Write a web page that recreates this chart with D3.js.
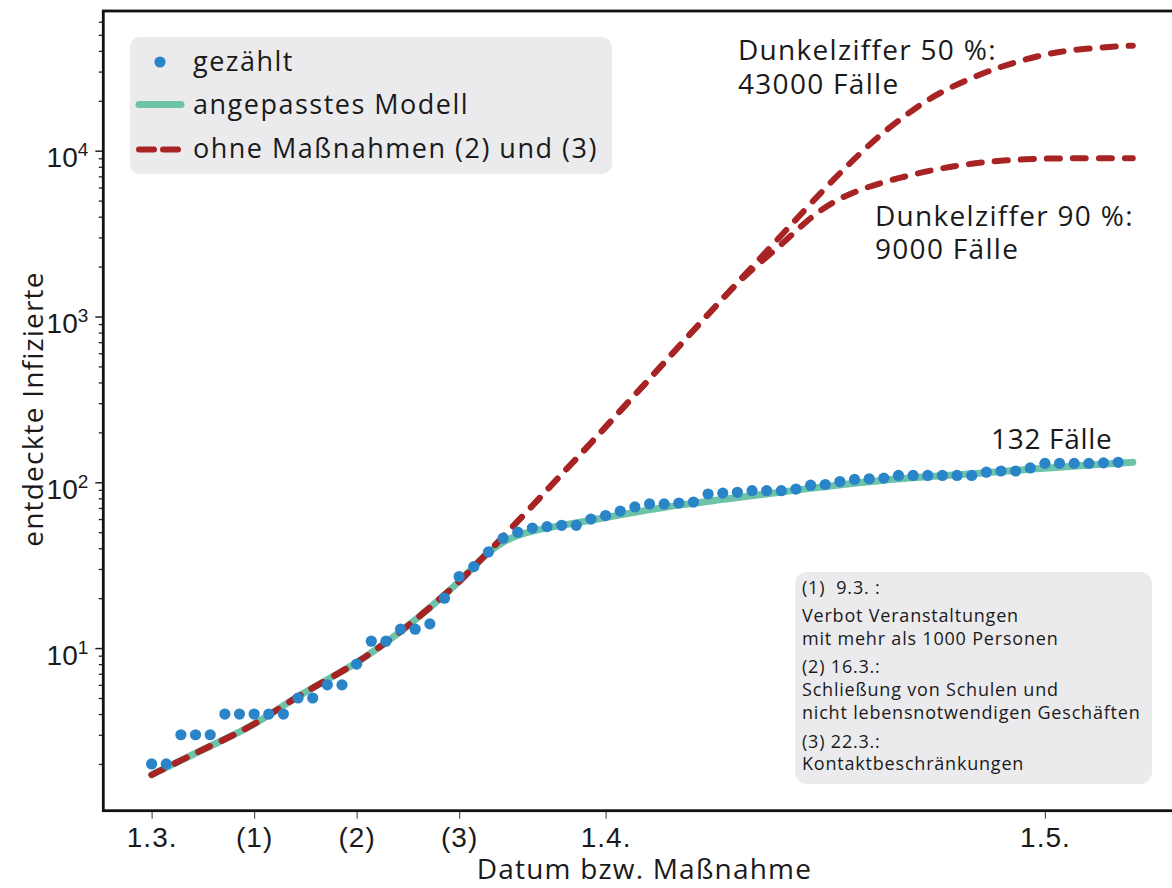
<!DOCTYPE html>
<html>
<head>
<meta charset="utf-8">
<script src="https://cdn.jsdelivr.net/npm/d3@7"></script>
<style>
html, body { margin: 0; padding: 0; background: #ffffff; }
svg { display: block; font-family: "Open Sans", "Noto Sans", sans-serif; font-weight: 500; }
</style>
</head>
<body>
<svg id="chart" width="1172" height="888"></svg>
<script>
// ---------------- data ----------------
// x axis: days since 1 March
const tickDays = [0, 7, 14, 21, 31, 61];
const tickLabels = ["1.3.", "(1)", "(2)", "(3)", "1.4.", "1.5."];

const yMajorTicks = [10, 100, 1000, 10000];
const yMajorExponents = ["1", "2", "3", "4"];

// counted cases, one value per day starting 1 March
const counted = [2, 2, 3, 3, 3, 4, 4, 4, 4, 4,
                 5, 5, 6, 6, 8, 11, 11, 13, 13, 14,
                 20, 27, 31, 38, 46, 50, 53, 54, 55, 55,
                 60, 63, 67, 71, 74, 74, 75, 76, 85, 86,
                 87, 89, 89, 89, 91, 96, 97, 101, 104, 105,
                 106, 110, 110, 110, 110, 110, 110, 115, 117, 117,
                 122, 130, 130, 130, 130, 131, 132];

// fitted model
const modelDays   = [0, 2, 4, 7, 10, 14, 17, 19, 21, 22, 23, 24, 25, 26, 28, 30, 33, 36, 40, 45, 50, 55, 57, 60, 64, 67];
const modelValues = [1.72, 2.1, 2.57, 3.4, 5.2, 8.0, 12.5, 17.5, 25, 31, 38, 44, 48, 51, 55, 59, 66, 73, 81, 92, 104, 111, 114, 120, 127, 132];

// without measures (2) and (3): common part
const sharedDays   = [0, 2, 4, 7, 10, 14, 17, 19, 21, 22, 23, 24, 26, 28, 30, 32, 34, 36, 38, 40];
const sharedValues = [1.72, 2.1, 2.57, 3.4, 5.2, 8.0, 12.5, 17.5, 25, 31, 38, 47, 72, 112, 172, 270, 420, 660, 1030, 1600];

// branch: Dunkelziffer 50 %
const dark50Days   = [41, 42.4, 43.7, 45.1, 46.7, 48.3, 49.9, 51.5, 52.8, 54.2, 55.8, 57.3, 58.9, 60.6, 61.9, 63.7, 66.2, 67];
const dark50Values = [1990, 2700, 3600, 4900, 6900, 9500, 12800, 16400, 19800, 23300, 27000, 30600, 34000, 37400, 39400, 41300, 42700, 43000];

// branch: Dunkelziffer 90 %
const dark90Days   = [41.5, 43.1, 44.6, 46.4, 48.7, 51.0, 53.3, 55.6, 58.3, 61.4, 64, 67];
const dark90Values = [2100, 2750, 3700, 4900, 6000, 6850, 7650, 8300, 8800, 9000, 9000, 9000];

const legendLabels = ["gezählt", "angepasstes Modell", "ohne Maßnahmen (2) und (3)"];
const noteLines = ["(1)  9.3. :", "Verbot Veranstaltungen", "mit mehr als 1000 Personen",
                   "(2) 16.3.:", "Schließung von Schulen und", "nicht lebensnotwendigen Geschäften",
                   "(3) 22.3.:", "Kontaktbeschränkungen"];

// ---------------- layout ----------------
const svg = d3.select("#chart");
const L = 103.3, T = 11, B = 810.7, R = 1185.5;
const COLOR_DOT = "#2a84c8", COLOR_MODEL = "#6cc3a8", COLOR_RED = "#a82424", INK = "#1a1a1a";

const x = d3.scaleLinear().domain([-3.3, 70.6]).range([L, R]);
const y = d3.scaleLog().domain([1.045, 69600]).range([B, T]);

// ---------------- axes ----------------
const minorTicks = [];
[1, 10, 100, 1000, 10000].forEach(p => {
  for (let k = 2; k <= 9; k++) {
    const v = k * p;
    if (v > 1.045 && v < 69600) minorTicks.push(v);
  }
});

const gYminor = svg.append("g").attr("transform", `translate(${L},0)`)
  .call(d3.axisLeft(y).tickValues(minorTicks).tickSize(4.5).tickFormat(""));
gYminor.select(".domain").remove();
gYminor.selectAll("line").attr("stroke", "#222").attr("stroke-width", 1.3);

const gY = svg.append("g").attr("transform", `translate(${L},0)`)
  .call(d3.axisLeft(y).tickValues(yMajorTicks).tickSize(8).tickFormat(""));
gY.select(".domain").remove();
gY.selectAll("line").attr("stroke", "#222").attr("stroke-width", 1.5);
gY.selectAll(".tick").each(function(d, i) {
  const t = d3.select(this).append("text")
    .attr("x", -15).attr("y", 16)
    .attr("text-anchor", "end")
    .attr("fill", INK)
    .style("font-size", "28px");
  t.append("tspan").text("10");
  t.append("tspan").attr("dy", -11).style("font-size", "19px").text(yMajorExponents[i]);
});

const gX = svg.append("g").attr("transform", `translate(0,${B})`)
  .call(d3.axisBottom(x).tickValues(tickDays).tickSize(8).tickPadding(8)
        .tickFormat((d, i) => tickLabels[i]));
gX.select(".domain").remove();
gX.selectAll("line").attr("stroke", "#444").attr("stroke-width", 1.1);
gX.selectAll("text").attr("fill", INK).style("font-size", "28px").style("letter-spacing", "1px");

// axis titles
svg.append("text")
  .attr("x", (L + R) / 2).attr("y", 879)
  .attr("text-anchor", "middle").attr("fill", INK)
  .style("font-size", "28px").style("letter-spacing", "1.2px")
  .text("Datum bzw. Maßnahme");

svg.append("text")
  .attr("transform", "translate(43,409) rotate(-90)")
  .attr("text-anchor", "middle").attr("fill", INK)
  .style("font-size", "28px").style("letter-spacing", "1.2px")
  .text("entdeckte Infizierte");

// ---------------- series ----------------
const line = d3.line().x(d => x(d[0])).y(d => y(d[1])).curve(d3.curveBasis);

const modelPts = modelDays.map((d, i) => [d, modelValues[i]]);
const sharedPts = sharedDays.map((d, i) => [d, sharedValues[i]]);
const pts50 = sharedPts.concat(dark50Days.map((d, i) => [d, dark50Values[i]]));
const pts90 = sharedPts.concat(dark90Days.map((d, i) => [d, dark90Values[i]]));

svg.append("path").attr("d", line(modelPts))
  .attr("fill", "none").attr("stroke", COLOR_MODEL).attr("stroke-width", 7)
  .attr("stroke-linecap", "round");

[pts90, pts50].forEach(p => {
  svg.append("path").attr("d", line(p))
    .attr("fill", "none").attr("stroke", COLOR_RED).attr("stroke-width", 6)
    .attr("stroke-linecap", "round")
    .attr("stroke-dasharray", "13 13");
});

svg.append("g").selectAll("circle").data(counted).join("circle")
  .attr("cx", (d, i) => x(i)).attr("cy", d => y(d)).attr("r", 5.6)
  .attr("fill", COLOR_DOT);

// ---------------- frame ----------------
svg.append("rect").attr("x", L).attr("y", T).attr("width", R - L).attr("height", B - T)
  .attr("fill", "none").attr("stroke", "#111").attr("stroke-width", 2.8);

// ---------------- legend ----------------
const lg = svg.append("g");
lg.append("rect").attr("x", 130).attr("y", 37).attr("width", 482).attr("height", 137)
  .attr("rx", 10).attr("fill", "#ebebee");
lg.append("circle").attr("cx", 160).attr("cy", 62).attr("r", 5.6).attr("fill", COLOR_DOT);
lg.append("line").attr("x1", 139).attr("x2", 181).attr("y1", 104.5).attr("y2", 104.5)
  .attr("stroke", COLOR_MODEL).attr("stroke-width", 7).attr("stroke-linecap", "round");
lg.append("line").attr("x1", 139).attr("x2", 181).attr("y1", 149.5).attr("y2", 149.5)
  .attr("stroke", COLOR_RED).attr("stroke-width", 6).attr("stroke-linecap", "round")
  .attr("stroke-dasharray", "15 9");
const legendBase = [70.5, 114, 158];
legendLabels.forEach((s, i) => {
  lg.append("text").attr("x", 193).attr("y", legendBase[i]).attr("fill", INK)
    .style("font-size", "27px").style("letter-spacing", "1.5px").text(s);
});

// ---------------- annotations ----------------
const big = (tx, ty, s, ls) => svg.append("text").attr("x", tx).attr("y", ty).attr("fill", INK)
  .style("font-size", "28px").style("letter-spacing", ls + "px").text(s);
big(738, 60, "Dunkelziffer 50 %:", 1.3);
big(738, 94, "43000 Fälle", 1.3);
big(875, 226, "Dunkelziffer 90 %:", 1.3);
big(875, 259, "9000 Fälle", 1.3);
big(991, 449, "132 Fälle", 0.7);

const nb = svg.append("g");
nb.append("rect").attr("x", 795).attr("y", 572).attr("width", 357).attr("height", 212)
  .attr("rx", 12).attr("fill", "#ebebee");
const noteBase = [593.5, 621.5, 644.5, 672.5, 696, 718.5, 747.5, 769.5];
noteLines.forEach((s, i) => {
  nb.append("text").attr("x", 802).attr("y", noteBase[i]).attr("fill", INK)
    .style("font-size", "18px").style("letter-spacing", "0.8px")
    .style("white-space", "pre").text(s);
});
</script>
</body>
</html>
